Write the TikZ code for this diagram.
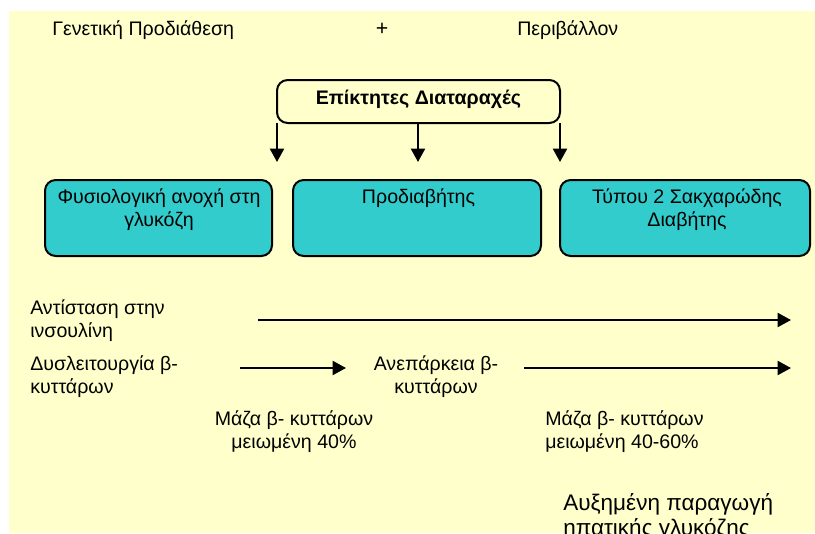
\documentclass[tikz,border=0pt]{standalone}
\usepackage{fontspec}
\setmainfont{Liberation Sans}
\usetikzlibrary{arrows.meta}
\definecolor{paper}{HTML}{FFFFCC}
\definecolor{stagefill}{HTML}{33CCCC}
\begin{document}
\begin{tikzpicture}[x=0.75pt,y=-0.75pt,
  txt/.style={inner sep=0pt, font=\fontsize{14.7pt}{17.25pt}\selectfont},
  bigtxt/.style={inner sep=0pt, font=\fontsize{16.9pt}{18.75pt}\selectfont},
  stagebox/.style={draw=black, line width=1.5pt, rounded corners=8pt, fill=stagefill},
  flow/.style={line width=1.5pt, -{Triangle[length=10pt,width=10.5pt]}}]
\useasboundingbox (0,0) rectangle (815,533);
\fill[paper] (9,11) rectangle (815,533);

% heading line
\node[txt, anchor=base west] (gen) at (52,35) {Γενετική Προδιάθεση};
\node[txt, font=\fontsize{16pt}{18pt}\selectfont] (plus) at (382,29) {+};
\node[txt, anchor=base west] (env) at (517,35) {Περιβάλλον};

% acquired disorders box and its three arrows
\draw[stagebox, fill=paper] (277,80) rectangle (560,123);
\node[txt, font=\fontsize{14.7pt}{17.25pt}\selectfont\bfseries] (acq) at (418.5,99) {Επίκτητες Διαταραχές};
\coordinate (acqL) at (277,123);
\coordinate (acqM) at (418,123);
\coordinate (acqR) at (560,123);
\coordinate (tipL) at (277,162);
\coordinate (tipM) at (418,162);
\coordinate (tipR) at (560,162);
\draw[flow] (acqL) -- (tipL);
\draw[flow] (acqM) -- (tipM);
\draw[flow] (acqR) -- (tipR);

% three stages (last-line baselines given)
\draw[stagebox] (45,180) rectangle (272,256);
\draw[stagebox] (293,180) rectangle (541,256);
\draw[stagebox] (560,180) rectangle (810,256);
\node[txt, align=center, anchor=base] (s1) at (159,226) {Φυσιολογική ανοχή στη\\γλυκόζη};
\node[txt, align=center, anchor=base] (s2) at (418.5,203) {Προδιαβήτης};
\node[txt, align=center, anchor=base] (s3) at (687,226) {Τύπου 2 Σακχαρώδης\\Διαβήτης};

% insulin resistance
\node[txt, align=left, anchor=base west] (res) at (30,337) {Αντίσταση στην\\ινσουλίνη};
\coordinate (r0) at (258,320);
\coordinate (r1) at (791,320);
\draw[flow] (r0) -- (r1);

% beta-cell course
\node[txt, align=left, anchor=base west] (dys) at (30,393) {Δυσλειτουργία β-\\κυττάρων};
\node[txt, align=center, anchor=base] (ins) at (436,393) {Ανεπάρκεια β-\\κυττάρων};
\coordinate (d0) at (240,368);
\coordinate (d1) at (346,368);
\coordinate (i0) at (524,368);
\coordinate (i1) at (791,368);
\draw[flow] (d0) -- (d1);
\draw[flow] (i0) -- (i1);

% beta-cell mass
\node[txt, align=center, anchor=base] (m1) at (294,448) {Μάζα β- κυττάρων\\μειωμένη 40\%};
\node[txt, align=left, anchor=base west] (m2) at (545,448) {Μάζα β- κυττάρων\\μειωμένη 40-60\%};

% hepatic glucose
\node[bigtxt, align=left, anchor=base west] (hep) at (563,535) {Αυξημένη παραγωγή\\ηπατικής γλυκόζης};
\end{tikzpicture}
\end{document}
